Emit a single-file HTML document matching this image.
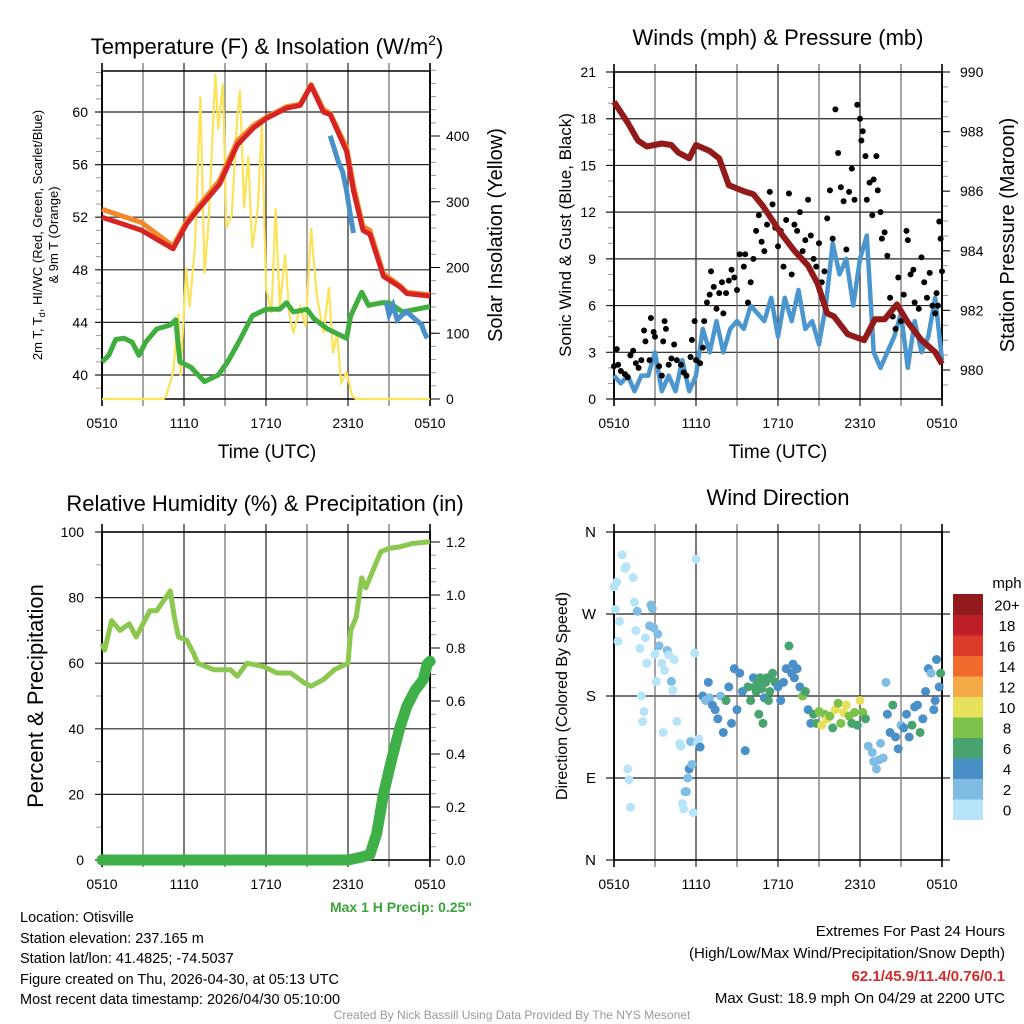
<!DOCTYPE html>
<html><head><meta charset="utf-8"><style>
body{margin:0;background:#fff;}
svg{display:block;font-family:"Liberation Sans",Arial,sans-serif;}
</style></head><body>
<svg id="c" width="1024" height="1024" viewBox="0 0 1024 1024">
<rect width="1024" height="1024" fill="#fff"/>
<g id="layer"></g>
<text x="267" y="54" font-size="22" text-anchor="middle">Temperature (F) &amp; Insolation (W/m<tspan font-size="14" dy="-9">2</tspan><tspan dy="9">)</tspan></text>
<text x="778" y="45" font-size="22" text-anchor="middle">Winds (mph) &amp; Pressure (mb)</text>
<text x="265" y="511" font-size="22" text-anchor="middle">Relative Humidity (%) &amp; Precipitation (in)</text>
<text x="778" y="505" font-size="22" text-anchor="middle">Wind Direction</text>
<text transform="translate(42,235) rotate(-90)" font-size="13" text-anchor="middle">2m T, T<tspan font-size="9" dy="3">d</tspan><tspan dy="-3">, HI/WC (Red, Green, Scarlet/Blue)</tspan></text>
<text transform="translate(58,235) rotate(-90)" font-size="13" text-anchor="middle">&amp; 9m T (Orange)</text>
<text transform="translate(502,235) rotate(-90)" font-size="20" text-anchor="middle">Solar Insolation (Yellow)</text>
<text transform="translate(571,235) rotate(-90)" font-size="17" text-anchor="middle">Sonic Wind &amp; Gust (Blue, Black)</text>
<text transform="translate(1014,235) rotate(-90)" font-size="20" text-anchor="middle">Station Pressure (Maroon)</text>
<text transform="translate(43,696) rotate(-90)" font-size="22" text-anchor="middle">Percent &amp; Precipitation</text>
<text transform="translate(567,696) rotate(-90)" font-size="16" text-anchor="middle">Direction (Colored By Speed)</text>
<text x="267" y="458" font-size="19" text-anchor="middle">Time (UTC)</text>
<text x="778" y="458" font-size="19" text-anchor="middle">Time (UTC)</text>
<text x="472" y="912" font-size="14" font-weight="bold" fill="#3aa53a" text-anchor="end">Max 1 H Precip: 0.25"</text>
<g font-size="14.5">
<text x="20" y="922">Location: Otisville</text>
<text x="20" y="943">Station elevation: 237.165 m</text>
<text x="20" y="963">Station lat/lon: 41.4825; -74.5037</text>
<text x="20" y="984">Figure created on Thu, 2026-04-30, at 05:13 UTC</text>
<text x="20" y="1004">Most recent data timestamp: 2026/04/30 05:10:00</text>
</g>
<g font-size="15" text-anchor="end">
<text x="1005" y="936">Extremes For Past 24 Hours</text>
<text x="1005" y="958">(High/Low/Max Wind/Precipitation/Snow Depth)</text>
<text x="1005" y="981" fill="#d32a2a" font-weight="bold">62.1/45.9/11.4/0.76/0.1</text>
<text x="1005" y="1003">Max Gust: 18.9 mph On 04/29 at 2200 UTC</text>
</g>
<text x="512" y="1019" font-size="12" fill="#999" text-anchor="middle">Created By Nick Bassill Using Data Provided By The NYS Mesonet</text>
</svg>
<script>
// ---- data ----
const timeTicks = ["0510","1110","1710","2310","0510"];
const tempTimes = [0,2.9,5.2,6.2,7.2,8.6,9.9,11.1,12.0,13.5,14.5,15.3,16.2,16.7,17.9,18.4,19.1,19.6,20.6,21.8,22.3,24];
const tempRed =   [52,51,49.6,51.5,52.8,54.5,57.5,58.8,59.5,60.3,60.5,62,60,59.8,57,54,51,50.7,47.5,46.7,46.2,46];
const tempOrange =[52.6,51.6,49.8,51.7,53,54.8,57.8,59,59.6,60.4,60.6,62.1,60.2,59.9,57.3,54.4,51.3,51,47.7,46.8,46.3,46.1];
const dewTimes = [0,0.5,1,1.6,2.2,2.7,3.2,4,5,5.4,5.7,6.5,7.5,8.5,9.2,10,11,12,13,13.5,14,15,15.5,16.5,17.9,18.2,19,19.5,20.5,21,22,24];
const dewValues = [41,41.5,42.7,42.8,42.5,41.5,42.5,43.5,43.8,44.2,41,40.6,39.5,40,41,42.5,44.5,45,45,45.5,44.8,45,44.3,43.5,42.8,44.5,46.3,45.3,45.5,45.5,44.8,45.2];
const hiTimes = [16.7,17.0,17.3,17.6,17.9,18.2,18.4];
const hiValues = [58.2,57.2,56.2,55.5,54,52,50.8];
const wcTimes = [20.8,21.0,21.3,21.6,22.0,22.3,23.4,23.6,23.8];
const wcValues = [45.5,44.6,45.3,44.2,44.6,44.8,43.8,43.2,42.8];
const solarTimes=[0,4.5,4.7,5.2,5.6,5.75,6.15,6.4,6.8,7.2,7.5,7.8,8.3,8.5,8.85,9.1,9.5,9.9,10.1,10.4,10.7,11.0,11.4,11.7,12.0,12.4,12.7,13.0,13.4,13.7,14.0,14.5,14.9,15.3,15.7,16.2,16.6,16.9,17.2,17.5,17.9,18.3,18.6,24];
const solarValues=[0,0,5,40,130,35,200,140,230,460,190,270,495,410,480,260,280,430,470,290,370,230,290,420,170,130,290,140,220,130,100,140,110,260,160,100,170,70,100,25,40,5,0,0];
const windTimes=[0,0.5,1,1.5,2,2.5,3,3.5,4,4.5,5,5.5,6,6.5,7,7.5,8,8.5,9,9.5,10,10.5,11,11.5,12,12.5,13,13.5,14,14.5,15,15.5,16,16.5,17,17.5,18,18.5,19,19.5,20,20.5,21,21.5,22,22.5,23,23.5,24];
const windValues=[1.5,1.0,1.5,0.5,1.5,1.5,3.0,0.5,1.5,0.5,2.5,0.5,1.5,4.5,3.0,5.0,3.0,4.5,5.0,4.5,6.0,5.5,5.0,6.5,4.0,6.5,5.0,7.0,4.5,5.0,3.5,6.0,10.0,8.0,9.0,6.0,9.0,10.5,3.0,2.0,3.0,4.0,5.5,2.0,5.0,3.0,4.0,6.5,2.5];
const pressTimes=[0,1,1.75,2.4,3.5,4.2,4.7,5.5,6.0,7.0,7.7,8.4,9.5,10.2,10.9,12.2,13.2,14.2,14.9,15.6,16.1,17.1,18.3,19.1,19.8,20.7,21.5,22.5,23.5,24];
const pressValues=[989.0,988.3,987.7,987.5,987.6,987.55,987.3,987.1,987.55,987.35,987.1,986.2,986.0,985.9,985.5,984.6,984.0,983.5,982.9,981.9,981.8,981.2,981.0,981.7,981.7,982.2,981.6,981.0,980.6,980.2];
const gustTimes=[0,0.2,0.3,0.5,0.8,1.0,1.2,1.4,1.6,1.8,2.0,2.2,2.3,2.6,2.7,2.9,3.0,3.3,3.5,3.6,3.7,3.8,4.0,4.2,4.4,4.6,4.9,5.1,5.3,5.6,5.7,5.9,6.0,6.3,6.5,6.6,6.8,7.0,7.1,7.3,7.5,7.7,7.9,8.0,8.2,8.4,8.6,8.8,9.0,9.2,9.5,9.6,9.8,10.0,10.2,10.4,10.6,10.8,11.0,11.2,11.4,11.6,11.8,12.0,12.2,12.4,12.6,12.8,13.0,13.2,13.4,13.6,13.8,14.0,14.2,14.4,14.6,14.8,15.0,15.2,15.4,15.6,15.8,16.0,16.2,16.4,16.6,16.8,17.0,17.2,17.4,17.6,17.8,18.0,18.1,18.2,18.4,18.5,18.7,18.9,19.0,19.2,19.3,19.5,19.6,19.8,20.0,20.2,20.4,20.6,20.8,21.0,21.2,21.4,21.5,21.7,21.9,22.0,22.3,22.5,22.7,22.9,23.1,23.3,23.5,23.6,23.7,23.8,23.9,24.0];
const gustValues=[2.1,3.2,2.2,1.8,1.6,1.4,2.8,3.1,2.3,2.0,2.5,4.4,3.7,2.5,5.2,4.3,4.0,2.1,1.5,3.7,5.0,4.5,2.2,2.6,3.5,2.5,2.2,1.7,1.5,2.7,3.8,5.0,2.5,2.3,3.3,5.0,6.2,6.7,8.2,7.2,5.8,6.8,7.5,5.5,6.8,7.6,8.3,7.8,7.0,9.3,8.5,9.3,6.2,7.5,9.0,10.8,11.8,10.1,9.5,11.2,13.3,12.5,11.0,9.8,10.8,8.5,11.5,13.2,8.0,11.2,10.8,12.0,9.5,10.2,12.8,10.5,9.0,8.5,10.0,7.5,8.2,11.6,13.4,10.3,18.6,15.8,13.6,12.7,9.6,13.3,14.8,12.8,18.9,18.0,16.6,17.2,15.6,12.8,13.9,11.8,14.1,15.6,13.4,12.0,10.3,10.7,9.2,6.5,5.3,4.5,7.8,5.0,6.7,10.8,10.2,8.0,8.3,6.2,5.8,9.1,7.5,6.5,8.1,6.0,5.5,6.8,6.0,11.4,10.3,8.2];
const rhTimes=[0,0.2,0.7,1.3,2.0,2.5,3.0,3.5,4.0,4.5,5.0,5.3,5.6,6.2,6.7,7.0,8.2,9.4,9.9,10.6,11.8,12.8,13.8,14.8,15.3,16.2,17.0,18.0,18.2,18.6,19.0,19.3,19.8,20.4,21.0,21.8,22.7,24];
const rhValues=[66,64,73,70,72,68,72,76,76,79,82,74,68,67,63,60,58,58,56,60,59,57,57,54,53,55,58,60,70,74,86,83,88,94,95,95.5,96.5,97];
const precipTimes=[0,18,18.9,19.6,20.1,20.6,21.2,21.8,22.3,22.9,23.5,23.8,24];
const precipValues=[0,0,0.01,0.02,0.1,0.25,0.38,0.5,0.58,0.64,0.68,0.74,0.75];
const dirTimes=[0,0.1,0.2,0.3,0.4,0.6,0.8,0.9,1.0,1.1,1.2,1.4,1.5,1.6,1.7,1.9,2.0,2.1,2.2,2.3,2.4,2.6,2.7,2.8,2.9,3.0,3.1,3.2,3.3,3.5,3.6,3.7,3.9,4.0,4.2,4.3,4.4,4.6,4.8,4.9,5.0,5.1,5.2,5.3,5.4,5.5,5.6,5.7,5.8,5.9,6.0,6.1,6.2,6.3,
6.5,6.7,6.9,7.0,7.2,7.4,7.6,7.8,8.0,8.2,8.4,8.6,8.8,9.0,9.2,9.4,9.6,9.8,10.0,10.2,10.3,10.4,10.5,10.6,10.7,10.8,10.9,11.0,11.1,11.2,11.3,11.4,11.5,11.6,11.8,12.0,12.2,12.4,12.6,12.8,13.0,13.1,13.2,13.4,13.6,13.8,14.0,14.2,14.4,14.6,
14.8,15.0,15.2,15.4,15.6,15.8,16.0,16.2,16.4,16.6,16.8,17.0,17.2,17.4,17.6,17.8,18.0,18.2,18.4,18.6,
18.9,19.0,19.2,19.4,19.5,19.7,19.9,20.0,20.2,20.4,20.6,20.8,21.0,21.2,21.4,21.6,21.8,22.0,22.2,22.4,22.6,22.8,23.0,23.2,23.4,23.5,23.6,23.8,23.9,24.0];
const dirValues=[300,275,305,240,262,335,320,322,100,88,58,310,283,252,273,232,180,152,163,244,216,257,280,276,255,226,196,248,235,216,140,208,230,225,196,186,220,152,128,125,62,56,75,75,90,100,130,105,52,227,330,128,133,124,
180,175,195,178,170,165,155,180,140,175,190,150,210,165,205,185,120,190,175,200,190,185,195,160,200,188,150,178,195,200,175,185,200,205,195,190,175,195,210,235,205,215,200,210,190,180,185,165,150,
160,150,163,148,160,155,158,145,165,172,150,162,170,158,150,162,148,175,162,155,
125,118,108,100,110,128,112,195,160,140,170,135,122,148,145,160,135,148,168,170,140,155,185,210,205,165,175,220,190,205];
const dirSpeeds=[0,0,0,1,0,0,0,1,0,0,0,1,1,1,2,0,0,0,0,1,1,2,2,3,3,0,0,2,2,0,0,0,3,0,3,0,0,0,0,0,0,0,3,2,3,4,2,2,0,1,0,1,1,4,
4,3,4,3,4,4,4,3,4,6,4,4,4,4,4,4,4,6,6,4,6,6,6,6,7,6,6,4,6,6,7,6,6,6,6,4,4,4,4,6,4,4,4,4,4,8,6,4,4,
6,6,8,10,8,10,8,6,10,8,8,10,10,8,6,8,6,10,8,6,
2,2,2,3,2,3,2,2,4,4,6,4,4,3,4,4,4,6,4,4,6,4,4,4,3,4,4,4,4,6];
const speedBins=["0","2","4","6","8","10","12","14","16","18","20+"];
const speedColors=["#b7e4f8","#80bde4","#4a8fc7","#47a46e","#7cc24a","#e6e05a","#f5a947","#ef6a2d","#dc3a2a","#be1e26","#901a1e"];

const NS="http://www.w3.org/2000/svg";
const layer=document.getElementById('layer');
function mk(tag,attrs,parent){const e=document.createElementNS(NS,tag);for(const k in attrs)e.setAttribute(k,attrs[k]);(parent||layer).appendChild(e);return e;}
function panel(x0,y0,w,h){return {x:t=>x0+t/24*w,x0,y0,w,h};}
function pathFrom(ts,vs,fx,fy){let d="";const n=Math.min(ts.length,vs.length);for(let i=0;i<n;i++){d+=(i?"L":"M")+fx(ts[i]).toFixed(1)+","+fy(vs[i]).toFixed(1);}return d;}
function frame(P,g){
  for(let i=0;i<=8;i++){const x=P.x0+i*P.w/8;
    const l=mk('line',{x1:x,y1:P.y0-8,x2:x,y2:P.y0+P.h+7,stroke:(i%2?'#777':'#333'),'stroke-width':i==0||i==8?2:1.3},g);
    }
  mk('rect',{x:P.x0,y:P.y0,width:P.w,height:P.h,fill:'none',stroke:'#000','stroke-width':1.5},g);
  timeTicks.forEach((s,i)=>{const t=mk('text',{x:P.x0+i*P.w/4,y:P.y0+P.h+29,'font-size':14,'text-anchor':'middle'},g);t.textContent=s;
    });
}
function hgrid(g,P,y,xl,xr){const l=mk('line',{x1:xl,y1:y,x2:xr,y2:y,stroke:'#222','stroke-width':1.2},g);}
function label(g,x,y,s,anchor,size){const t=mk('text',{x:x,y:y+5,'font-size':size||14,'text-anchor':anchor},g);t.textContent=s;return t;}
function minor(g,x1,x2,y){mk('line',{x1:x1,y1:y,x2:x2,y2:y,stroke:'#999','stroke-width':1},g);}

// ---- Temperature panel ----
{const P=panel(102,71,328,328);const g=mk('g',{});
 const fy=v=>375-(v-40)*13.15, fs=v=>399-v*0.6575;
 for(let v=39;v<=63;v++) minor(g,96,102,fy(v));
 for(let v=20;v<=500;v+=20) minor(g,430,436,fs(v));
 [40,44,48,52,56,60].forEach(v=>{hgrid(g,P,fy(v),95,430);label(g,88,fy(v),String(v),'end');});
 [0,100,200,300,400].forEach(v=>{mk('line',{x1:430,y1:fs(v),x2:440,y2:fs(v),stroke:'#000'},g);label(g,446,fs(v),String(v),'start');});
 frame(P,g);
 let e=mk('path',{d:pathFrom(solarTimes,solarValues,P.x,fs),fill:'none',stroke:'#fbe35a','stroke-width':2.2},g);
 e=mk('path',{d:pathFrom(dewTimes,dewValues,P.x,fy),fill:'none',stroke:'#3fae3f','stroke-width':5,'stroke-linejoin':'round'},g);
 e=mk('path',{d:pathFrom(tempTimes,tempOrange,P.x,fy),fill:'none',stroke:'#f28a2c','stroke-width':5,'stroke-linejoin':'round'},g);
 e=mk('path',{d:pathFrom(tempTimes,tempRed,P.x,fy),fill:'none',stroke:'#d62424','stroke-width':5,'stroke-linejoin':'round'},g);
 e=mk('path',{d:pathFrom(hiTimes,hiValues,P.x,fy),fill:'none',stroke:'#4a90c8','stroke-width':5},g);
 e=mk('path',{d:pathFrom(wcTimes,wcValues,P.x,fy),fill:'none',stroke:'#4a90c8','stroke-width':5},g);
}
// ---- Wind panel ----
{const P=panel(614,72,328,327);const g=mk('g',{});
 const fy=v=>399-v*15.57, fp=p=>72+(990-p)*29.8;
 for(let v=1;v<21;v++) minor(g,608,614,fy(v));
 for(let p=979.5;p<990;p+=0.5) minor(g,942,948,fp(p));
 [0,3,6,9,12,15,18,21].forEach(v=>{hgrid(g,P,fy(v),606,942);label(g,596,fy(v),String(v),'end');});
 [980,982,984,986,988,990].forEach(p=>{hgrid(g,P,fp(p),942,950);label(g,960,fp(p),String(p),'start');});
 frame(P,g);
 let e=mk('path',{d:pathFrom(windTimes,windValues,P.x,fy),fill:'none',stroke:'#4c96d0','stroke-width':4.5,'stroke-linejoin':'round'},g);
 gustTimes.forEach((t,i)=>{if(gustValues[i]===undefined)return;
   const c=mk('circle',{cx:P.x(t),cy:fy(gustValues[i]),r:3,fill:'#000'},g);
   
   });
 e=mk('path',{d:pathFrom(pressTimes,pressValues,P.x,fp),fill:'none',stroke:'#921a1a','stroke-width':6,'stroke-linejoin':'round'},g);
}
// ---- RH panel ----
{const P=panel(102,532,328,328);const g=mk('g',{});
 const fy=v=>860-v*3.28, fr=v=>860-v*265;
 for(let v=10;v<100;v+=20) minor(g,96,102,fy(v));
 for(let v=0.05;v<1.24;v+=0.05) minor(g,430,436,fr(v));
 [0,20,40,60,80,100].forEach(v=>{hgrid(g,P,fy(v),95,430);label(g,84,fy(v),String(v),'end');});
 [0,0.2,0.4,0.6,0.8,1.0,1.2].forEach(v=>{mk('line',{x1:430,y1:fr(v),x2:440,y2:fr(v),stroke:'#000'},g);label(g,446,fr(v),v.toFixed(1),'start');});
 frame(P,g);
 let e=mk('path',{d:pathFrom(rhTimes,rhValues,P.x,fy),fill:'none',stroke:'#8cc84f','stroke-width':5,'stroke-linejoin':'round'},g);
 e=mk('path',{d:pathFrom(precipTimes,precipValues,P.x,fr),fill:'none',stroke:'#3fb048','stroke-width':11,'stroke-linecap':'round','stroke-linejoin':'round'},g);
}
// ---- Wind direction panel ----
{const P=panel(614,532,328,328);const g=mk('g',{});
 const fy=d=>860-d/360*328;
 [[360,'N'],[270,'W'],[180,'S'],[90,'E'],[0,'N']].forEach(([d,s])=>{hgrid(g,P,fy(d),606,950);label(g,596,fy(d),s,'end',15);});
 frame(P,g);
 dirTimes.forEach((t,i)=>{if(dirValues[i]===undefined)return;
   const sp=dirSpeeds[i]===undefined?4:dirSpeeds[i];
   const b=Math.min(10,Math.floor(sp/2));
   const c=mk('circle',{cx:P.x(t),cy:fy(dirValues[i]),r:4.5,fill:speedColors[b]},g);
   
   });
 const cb=mk('g',{});
 const bh=20.5;
 speedBins.forEach((s,i)=>{const y=594+(10-i)*bh;
   const r=mk('rect',{x:953,y:y,width:30,height:bh+0.5,fill:speedColors[i]},cb);
   const t=mk('text',{x:1007,y:y+bh/2+6,'font-size':15,'text-anchor':'middle'},cb);t.textContent=s;});
 const u=mk('text',{x:1007,y:588,'font-size':15,'text-anchor':'middle'},cb);u.textContent='mph';
}
</script>
</body></html>
